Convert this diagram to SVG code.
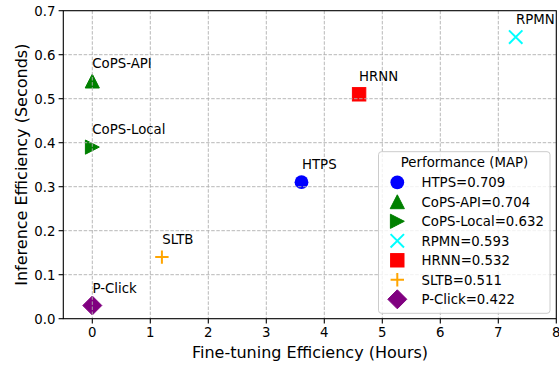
<svg xmlns="http://www.w3.org/2000/svg" width="559" height="366" viewBox="0 0 559 366">
<style>
text{font-family:"DejaVu Sans","Liberation Sans",sans-serif;fill:#000}
.tick{font-size:13.3px}
.lab{font-size:13.3px}
.axl{font-size:16px}
.grid line{stroke:#b0b0b0;stroke-width:0.9;stroke-dasharray:3.5,1.6}
.spine{fill:none;stroke:#000;stroke-width:1.1}
.tk line{stroke:#000;stroke-width:1.1}
</style>
<rect x="0" y="0" width="559" height="366" fill="#fff"/>
<g id="axes-ticks">
<g class="tk">
<line x1="92.3" y1="318.7" x2="92.3" y2="323.4"/>
<line x1="150.3" y1="318.7" x2="150.3" y2="323.4"/>
<line x1="208.3" y1="318.7" x2="208.3" y2="323.4"/>
<line x1="266.3" y1="318.7" x2="266.3" y2="323.4"/>
<line x1="324.3" y1="318.7" x2="324.3" y2="323.4"/>
<line x1="382.3" y1="318.7" x2="382.3" y2="323.4"/>
<line x1="440.3" y1="318.7" x2="440.3" y2="323.4"/>
<line x1="498.3" y1="318.7" x2="498.3" y2="323.4"/>
<line x1="556.3" y1="318.7" x2="556.3" y2="323.4"/>
<line x1="58.6" y1="318.7" x2="63.3" y2="318.7"/>
<line x1="58.6" y1="274.7" x2="63.3" y2="274.7"/>
<line x1="58.6" y1="230.7" x2="63.3" y2="230.7"/>
<line x1="58.6" y1="186.7" x2="63.3" y2="186.7"/>
<line x1="58.6" y1="142.7" x2="63.3" y2="142.7"/>
<line x1="58.6" y1="98.7" x2="63.3" y2="98.7"/>
<line x1="58.6" y1="54.7" x2="63.3" y2="54.7"/>
<line x1="58.6" y1="10.7" x2="63.3" y2="10.7"/>
</g>
<g class="tick" text-anchor="middle">
<text x="92.3" y="337.3">0</text>
<text x="150.3" y="337.3">1</text>
<text x="208.3" y="337.3">2</text>
<text x="266.3" y="337.3">3</text>
<text x="324.3" y="337.3">4</text>
<text x="382.3" y="337.3">5</text>
<text x="440.3" y="337.3">6</text>
<text x="498.3" y="337.3">7</text>
<text x="556.3" y="337.3">8</text>
</g>
<g class="tick" text-anchor="end">
<text x="55.5" y="323.5">0.0</text>
<text x="55.5" y="279.5">0.1</text>
<text x="55.5" y="235.5">0.2</text>
<text x="55.5" y="191.5">0.3</text>
<text x="55.5" y="147.5">0.4</text>
<text x="55.5" y="103.5">0.5</text>
<text x="55.5" y="59.5">0.6</text>
<text x="55.5" y="15.5">0.7</text>
</g>
<text class="axl" x="310" y="357.5" text-anchor="middle">Fine-tuning Efficiency (Hours)</text>
<text class="axl" transform="translate(26.8,164.7) rotate(-90)" text-anchor="middle">Inference Efficiency (Seconds)</text>
</g>
<g id="HTPS"><circle cx="301.5" cy="182.2" r="6.9" fill="#0000ff"/></g>
<g id="CoPS-API"><polygon points="92.3,74.1 85.2,88 99.4,88" fill="#008000" stroke="#008000" stroke-width="1" stroke-linejoin="miter"/></g>
<g id="CoPS-Local"><polygon points="99.3,147.1 85.4,140 85.4,154.2" fill="#008000" stroke="#008000" stroke-width="1"/></g>
<g id="RPMN"><path d="M509,30.4L522.4,43.8M509,43.8L522.4,30.4" stroke="#00ffff" stroke-width="2" fill="none"/></g>
<g id="HRNN"><rect x="352.4" y="87.6" width="13.4" height="13.4" fill="#ff0000" stroke="#ff0000" stroke-width="1"/></g>
<g id="SLTB"><path d="M155.2,257.1H168.6M161.9,250.4V263.8" stroke="#ffa500" stroke-width="2" fill="none"/></g>
<g id="P-Click"><polygon points="92.3,296 101.8,305.5 92.3,315 82.8,305.5" fill="#800080" stroke="#800080" stroke-width="1"/></g>
<g id="grid" class="grid">
<line x1="92.3" y1="10.7" x2="92.3" y2="318.7"/>
<line x1="150.3" y1="10.7" x2="150.3" y2="318.7"/>
<line x1="208.3" y1="10.7" x2="208.3" y2="318.7"/>
<line x1="266.3" y1="10.7" x2="266.3" y2="318.7"/>
<line x1="324.3" y1="10.7" x2="324.3" y2="318.7"/>
<line x1="382.3" y1="10.7" x2="382.3" y2="318.7"/>
<line x1="440.3" y1="10.7" x2="440.3" y2="318.7"/>
<line x1="498.3" y1="10.7" x2="498.3" y2="318.7"/>
<line x1="63.3" y1="274.7" x2="556.3" y2="274.7"/>
<line x1="63.3" y1="230.7" x2="556.3" y2="230.7"/>
<line x1="63.3" y1="186.7" x2="556.3" y2="186.7"/>
<line x1="63.3" y1="142.7" x2="556.3" y2="142.7"/>
<line x1="63.3" y1="98.7" x2="556.3" y2="98.7"/>
<line x1="63.3" y1="54.7" x2="556.3" y2="54.7"/>
</g>
<g id="labels" class="lab">
<text x="302" y="168.5">HTPS</text>
<text x="92.3" y="67.7">CoPS-API</text>
<text x="92.3" y="133.5">CoPS-Local</text>
<text x="516" y="23.8">RPMN</text>
<text x="359.1" y="81">HRNN</text>
<text x="162.2" y="243.8">SLTB</text>
<text x="92.5" y="292.5">P-Click</text>
</g>
<rect class="spine" x="63.3" y="10.7" width="493" height="308"/>
<g id="legend">
<rect x="378.5" y="151.7" width="171.5" height="161.6" rx="3" ry="3" fill="#fff" fill-opacity="0.8" stroke="#cccccc" stroke-width="1"/>
<text class="lab" x="464.5" y="166.7" text-anchor="middle">Performance (MAP)</text>
<circle cx="397.3" cy="182.3" r="6.9" fill="#0000ff"/>
<polygon points="397.3,194.8 390.2,208.7 404.4,208.7" fill="#008000" stroke="#008000" stroke-width="1"/>
<polygon points="404.3,221.3 390.4,214.2 390.4,228.4" fill="#008000" stroke="#008000" stroke-width="1"/>
<path d="M390.6,234.1L404,247.5M390.6,247.5L404,234.1" stroke="#00ffff" stroke-width="2" fill="none"/>
<rect x="390.6" y="253.6" width="13.4" height="13.4" fill="#ff0000" stroke="#ff0000" stroke-width="1"/>
<path d="M390.6,279.8H404M397.3,273.1V286.5" stroke="#ffa500" stroke-width="2" fill="none"/>
<polygon points="397.3,289.8 406.8,299.3 397.3,308.8 387.8,299.3" fill="#800080" stroke="#800080" stroke-width="1"/>
<g class="lab">
<text x="421.5" y="187">HTPS=0.709</text>
<text x="421.5" y="206.5">CoPS-API=0.704</text>
<text x="421.5" y="226">CoPS-Local=0.632</text>
<text x="421.5" y="245.5">RPMN=0.593</text>
<text x="421.5" y="265">HRNN=0.532</text>
<text x="421.5" y="284.5">SLTB=0.511</text>
<text x="421.5" y="304">P-Click=0.422</text>
</g>
</g>
</svg>
